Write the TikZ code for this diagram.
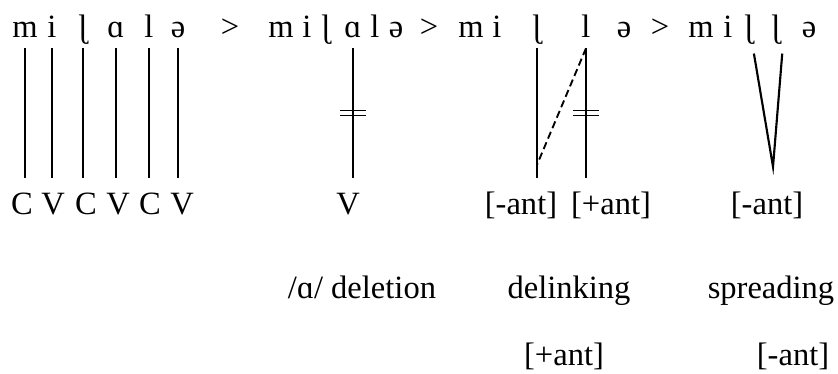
\documentclass[tikz,border=0pt]{standalone}
\usepackage{fontspec}
\setmainfont{Liberation Serif}
\usepackage{tikz}
\usetikzlibrary{calc}
\tikzset{
  sg/.style={anchor=base,inner sep=0pt,text height=16pt,text depth=7.5pt},
  lb/.style={anchor=base,inner sep=0pt,text height=27pt,text depth=6pt},
  tx/.style={anchor=base,inner sep=0pt},
  ln/.style={line width=1.6pt},
  dl/.style={line width=1.2pt},
  dsh/.style={line width=1.4pt,dash pattern=on 5.5pt off 3pt}
}
\newcommand{\cutbar}[1]{\draw[dl] ($(#1)+(-13,-2.5)$) -- ++(26,0) ($(#1)+(-13,2.5)$) -- ++(26,0);}

\begin{document}
\begin{tikzpicture}[x=0.75pt,y=-0.75pt,font=\fontsize{24.4}{29}\selectfont]
\useasboundingbox (0,0) rectangle (838,374);
\foreach \n/\xx/\ch in {1/25/m,2/52/i,3/83/ɭ,4/116/ɑ,5/149/l,6/178/ə}{\node[sg] (a\n) at (\xx,38) {\ch};}
\foreach \n/\xx/\ch in {1/22/C,2/53/V,3/86/C,4/118/V,5/150/C,6/182/V}{\node[lb] (ca\n) at (\xx,214) {\ch};}
\foreach \n in {1,...,6}{\draw[ln] (a\n.south) -- (a\n.south |- ca\n.north);}
\foreach \n/\xx in {1/230,2/429,3/660}{\node[sg] (gt\n) at (\xx,38) {>};}
\foreach \n/\xx/\ch in {1/281/m,2/307/i,3/326/ɭ,4/353/ɑ,5/375/l,6/396/ə}{\node[sg] (b\n) at (\xx,38) {\ch};}
\node[lb] (vb) at (348,214) {V};
\draw[ln] (b4.south) -- (b4.south |- vb.north) coordinate[midway] (cb);
\cutbar{cb}
\foreach \n/\xx/\ch in {1/471/m,2/497/i,3/537/ɭ,4/586/l,5/624/ə}{\node[sg] (c\n) at (\xx,38) {\ch};}
\node[lb] (fc1) at (521,214) {[-ant]};
\node[lb] (fc2) at (611,214) {[+ant]};
\draw[ln] (c3.south) -- (c3.south |- fc1.north);
\draw[ln] (c4.south) -- (c4.south |- fc2.north) coordinate[midway] (cc);
\cutbar{cc}
\draw[dsh] (c4.south) -- ($(c3.south)!.9!(c3.south |- fc1.north)$);
\foreach \n/\xx/\ch in {1/701/m,2/728/i,3/749/ɭ,4/776/ɭ,5/809/ə}{\node[sg] (d\n) at (\xx,38) {\ch};}
\node[lb] (fd) at (767,214) {[-ant]};
\path (fd.north) ++(6,-11) coordinate (vt);
\draw[ln,shorten <=4pt,shorten >=4pt] ([xshift=3pt]d3.south) -- (vt) -- ([xshift=5pt]d4.south);
\node[tx] (del) at (362,298) {/ɑ/ deletion};
\node[tx] (dlk) at (569,298) {delinking};
\node[tx] (spr) at (771,298) {spreading};
\node[tx] (pl) at (564,365) {[+ant]};
\node[tx] (mn) at (793,365) {[-ant]};
\end{tikzpicture}
\end{document}
